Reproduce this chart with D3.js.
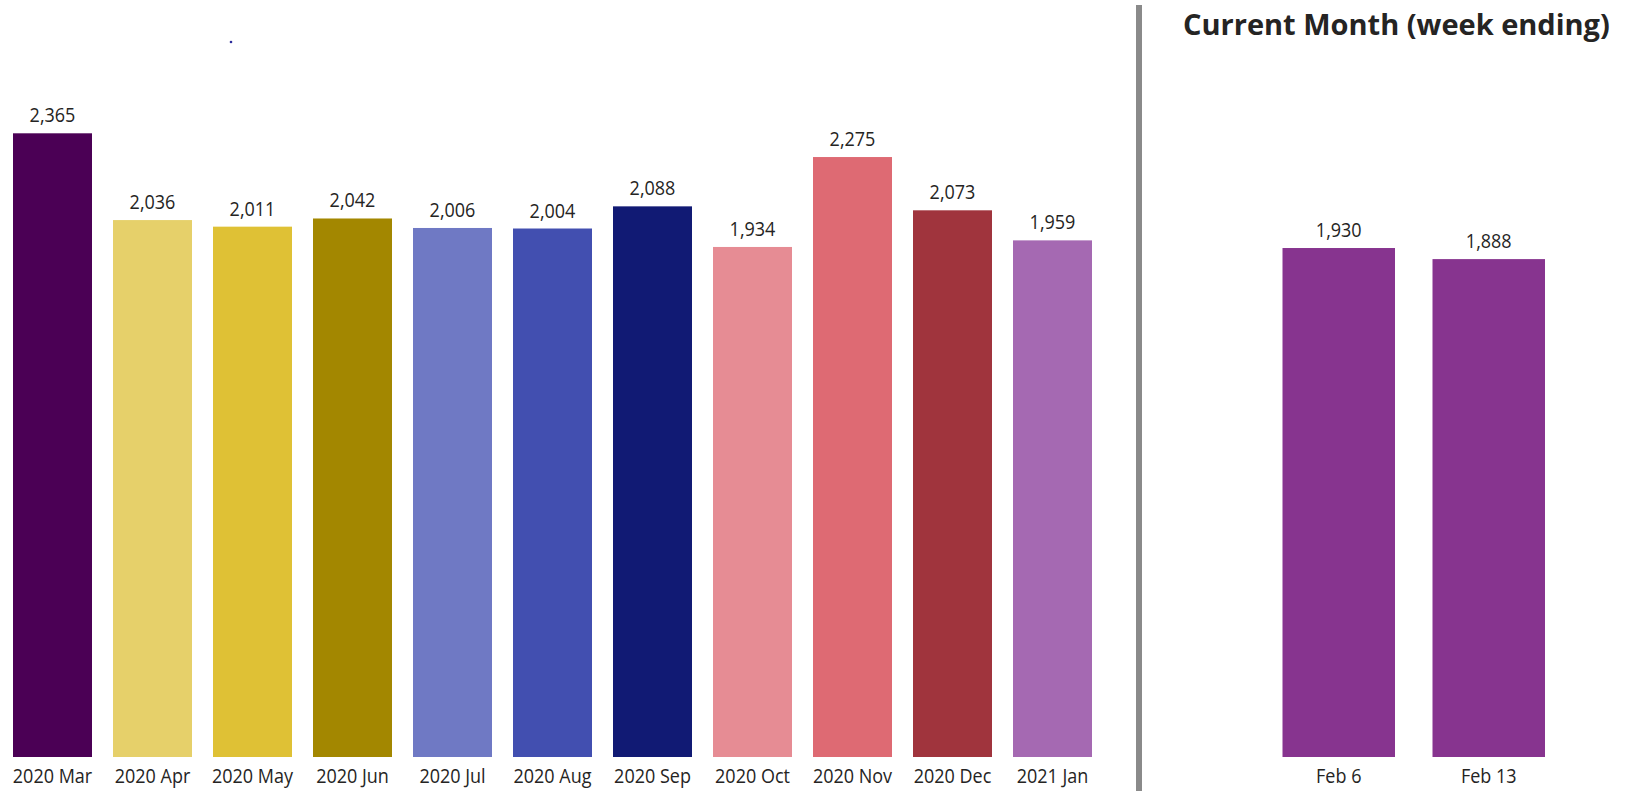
<!DOCTYPE html>
<html>
<head>
<meta charset="utf-8">
<script src="https://cdn.jsdelivr.net/npm/d3@7"></script>
<style>
  html, body { margin: 0; padding: 0; background: #ffffff; }
  svg { display: block; }
  text { font-family: "Open Sans", "Noto Sans", sans-serif; fill: #252423; }
</style>
</head>
<body>
<script>
// Monthly totals
const months = ["2020 Mar", "2020 Apr", "2020 May", "2020 Jun", "2020 Jul", "2020 Aug",
                "2020 Sep", "2020 Oct", "2020 Nov", "2020 Dec", "2021 Jan"];
const monthValues = [2365, 2036, 2011, 2042, 2006, 2004, 2088, 1934, 2275, 2073, 1959];
const monthColors = ["#4b0055", "#e6d06a", "#dfc135", "#a38700", "#6f79c4", "#424fb0",
                     "#111a74", "#e68c94", "#de6a73", "#a0343d", "#a569b2"];

// Current month, by week ending
const weeks = ["Feb 6", "Feb 13"];
const weekValues = [1930, 1888];
const weekColor = "#87348f";

const title = "Current Month (week ending)";

const W = 1650, H = 791;
const svg = d3.select("body").append("svg").attr("width", W).attr("height", H);

const fmt = d3.format(",");
const baseY = 757;
const y = d3.scaleLinear().domain([0, 2500]).range([baseY, baseY - 2500 * 0.26372]);

const xLeft = d3.scaleBand().domain(months).range([2.5, 1102.5])
  .paddingInner(0.21).paddingOuter(0.105);
const xRight = d3.scaleBand().domain(weeks).range([1263.75, 1563.75])
  .paddingInner(0.25).paddingOuter(0.125);

const squeeze = 0.9;   // slightly condensed label face
function label(g, x, yPos, txt, size, weight) {
  g.append("text")
    .attr("transform", `translate(${x},${yPos}) scale(${squeeze},1)`)
    .attr("text-anchor", "middle")
    .style("font-size", size + "px")
    .style("font-weight", weight || 400)
    .text(txt);
}

function drawBars(x, cats, vals, colorOf) {
  const g = svg.append("g");
  g.selectAll("rect").data(cats).join("rect")
    .attr("x", d => x(d))
    .attr("width", x.bandwidth())
    .attr("y", (d, i) => y(vals[i]))
    .attr("height", (d, i) => y(0) - y(vals[i]))
    .attr("fill", (d, i) => colorOf(i));
  cats.forEach((c, i) => {
    const cx = x(c) + x.bandwidth() / 2;
    label(g, cx, y(vals[i]) - 11, fmt(vals[i]), 20);
    label(g, cx, 783, c, 20);
  });
}

drawBars(xLeft, months, monthValues, i => monthColors[i]);
drawBars(xRight, weeks, weekValues, () => weekColor);

// separator between the two panels
svg.append("rect").attr("x", 1136).attr("y", 5).attr("width", 6).attr("height", H - 5)
  .attr("fill", "#8a8a8a");

// stray marker in the upper left
svg.append("circle").attr("cx", 231).attr("cy", 42).attr("r", 1.3).attr("fill", "#2c2c9c");

// panel title
svg.append("text")
  .attr("transform", `translate(1183,35)`)
  .style("font-size", "29px")
  .style("font-weight", 700)
  .text(title);
</script>
</body>
</html>
